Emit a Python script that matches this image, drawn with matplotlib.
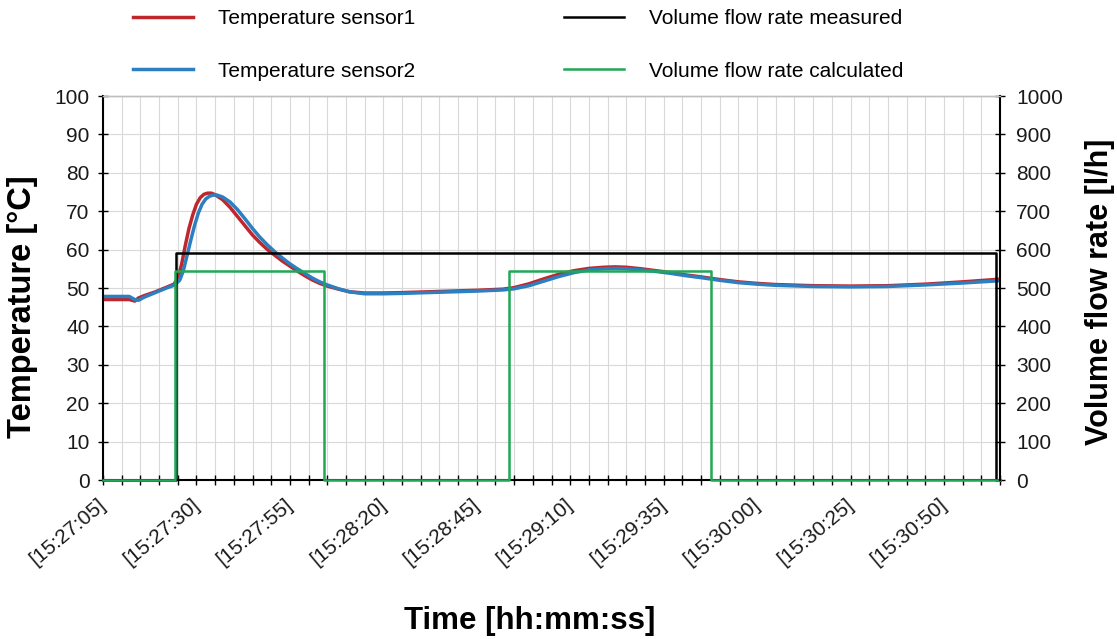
import matplotlib
matplotlib.use("Agg")
import matplotlib.pyplot as plt
from matplotlib.ticker import MultipleLocator, FuncFormatter
from matplotlib.transforms import ScaledTranslation
from matplotlib import font_manager

# ---- data (time in seconds after 15:27:05) ----
start_h, start_m, start_s = 15, 27, 5

t_sensor1 = [0, 7, 8.5, 9.5, 11, 14, 17, 19, 20, 21, 22, 23, 24, 25, 26, 27, 28, 29,
             30, 32, 34, 36, 38, 40, 42, 44, 46, 48, 50, 52, 54, 56, 58, 60, 63, 66,
             70, 75, 80, 90, 100, 107, 110, 114, 118, 122, 126, 130, 134, 137, 140,
             144, 148, 152, 156, 160, 165, 170, 175, 180, 190, 200, 210, 220, 230, 240]
temp_sensor1 = [47.0, 47.0, 46.6, 47.4, 48.0, 49.0, 50.2, 51.0, 52.5, 56.0, 61.0, 65.5,
                69.0, 71.8, 73.5, 74.4, 74.7, 74.7, 74.3, 73.0, 71.0, 68.6, 66.2, 63.8,
                61.8, 60.0, 58.5, 57.0, 55.7, 54.4, 53.2, 52.1, 51.2, 50.5, 49.7, 49.0,
                48.7, 48.7, 48.8, 49.1, 49.4, 49.7, 50.1, 51.1, 52.4, 53.6, 54.5, 55.1,
                55.4, 55.5, 55.4, 55.0, 54.5, 54.0, 53.4, 52.9, 52.2, 51.6, 51.2, 50.9,
                50.6, 50.5, 50.6, 51.0, 51.6, 52.3]

t_sensor2 = [0, 7, 8.5, 9.5, 11, 14, 17, 19, 20.5, 21.5, 22.5, 23.5, 24.5, 25.5, 26.5,
             27.5, 28.5, 29.5, 30.5, 32, 34, 36, 38, 40, 42, 44, 46, 48, 50, 52, 54, 56,
             58, 60, 63, 66, 70, 75, 80, 90, 100, 107, 110, 114, 118, 122, 126, 130,
             134, 137, 140, 144, 148, 152, 156, 160, 165, 170, 175, 180, 190, 200, 210,
             220, 230, 240]
temp_sensor2 = [47.8, 47.8, 47.0, 46.8, 47.6, 48.8, 50.0, 50.7, 52.0, 54.5, 58.5, 62.5,
                66.3, 69.5, 71.8, 73.2, 73.9, 74.2, 74.2, 73.7, 72.4, 70.4, 68.0, 65.5,
                63.2, 61.2, 59.4, 57.8, 56.3, 55.0, 53.8, 52.6, 51.6, 50.8, 49.8, 49.0,
                48.5, 48.5, 48.6, 48.9, 49.2, 49.5, 49.8, 50.6, 51.8, 53.0, 54.0, 54.7,
                55.0, 55.1, 55.0, 54.7, 54.3, 53.8, 53.2, 52.7, 52.0, 51.4, 51.0, 50.7,
                50.4, 50.3, 50.4, 50.8, 51.3, 51.9]

t_flow_measured = [0, 19.5, 238.8, 240]
flow_measured = [0, 590, 0, 0]

t_flow_calculated = [0, 19.3, 59.0, 108.6, 162.6, 240]
flow_calculated = [0, 545, 0, 545, 0, 0]

x_label = "Time [hh:mm:ss]"
y_label_left = "Temperature [°C]"
y_label_right = "Volume flow rate [l/h]"
labels = ["Temperature sensor1", "Temperature sensor2",
          "Volume flow rate measured", "Volume flow rate calculated"]

# ---- styling ----
available = {f.name for f in font_manager.fontManager.ttflist}
family = "Liberation Sans" if "Liberation Sans" in available else "DejaVu Sans"
plt.rcParams["font.family"] = [family, "DejaVu Sans"]

c_red = "#c0272d"
c_blue = "#2c7fc0"
c_black = "#000000"
c_green = "#1fa855"
c_grid = "#d9d9d9"

W, H = 1117, 639
fig = plt.figure(figsize=(W / 100, H / 100), dpi=100)
left, right, bottom, top = 103 / W, 1000 / W, 1 - 480 / H, 1 - 96 / H
ax = fig.add_axes([left, bottom, right - left, top - bottom])
ax2 = ax.twinx()

l1, = ax.plot(t_sensor1, temp_sensor1, color=c_red, lw=2.5, solid_joinstyle="round")
l2, = ax.plot(t_sensor2, temp_sensor2, color=c_blue, lw=2.5, solid_joinstyle="round")
l3, = ax2.plot(t_flow_measured, flow_measured, color=c_black, lw=1.8,
               drawstyle="steps-post", clip_on=False)
l4, = ax2.plot(t_flow_calculated, flow_calculated, color=c_green, lw=1.8,
               drawstyle="steps-post", clip_on=False)

ax.set_xlim(0, 240)
ax.set_ylim(0, 100)
ax2.set_ylim(0, 1000)

# x axis: labelled every 25 s, ticks and grid every 5 s
def fmt_time(v, pos):
    total = start_h * 3600 + start_m * 60 + start_s + int(round(v))
    h, rem = divmod(total, 3600)
    m, s = divmod(rem, 60)
    return f"[{h:02d}:{m:02d}:{s:02d}]"

ax.xaxis.set_minor_locator(MultipleLocator(5))
ax.xaxis.set_major_formatter(FuncFormatter(fmt_time))
ax.set_xticks([v for v in range(0, 226, 25)])
ax.yaxis.set_major_locator(MultipleLocator(10))
ax2.yaxis.set_major_locator(MultipleLocator(100))

ax.grid(which="both", axis="x", color=c_grid, lw=0.8)
ax.grid(which="major", axis="y", color=c_grid, lw=0.8)
ax.set_axisbelow(True)

tick_kw = dict(direction="inout", length=7.5, width=1.0, color="black",
               labelsize=15, labelcolor="#1a1a1a")
ax.tick_params(axis="x", which="both", pad=7, **tick_kw)
ax.tick_params(axis="y", which="major", pad=6, **tick_kw)
ax2.tick_params(axis="y", which="major", pad=8, **tick_kw)
shift = ScaledTranslation(-4 / 72, 0, fig.dpi_scale_trans)
for lab in ax.get_xticklabels():
    lab.set_rotation(40)
    lab.set_ha("right")
    lab.set_va("top")
    lab.set_rotation_mode("anchor")
    lab.set_transform(lab.get_transform() + shift)

for a in (ax, ax2):
    a.spines["top"].set_color("#bfbfbf")
    a.spines["top"].set_linewidth(1.0)
ax.spines["left"].set_linewidth(1.5)
ax.spines["bottom"].set_linewidth(1.5)
ax2.spines["right"].set_linewidth(1.5)
ax2.spines["bottom"].set_visible(False)
ax2.spines["left"].set_visible(False)
ax.spines["right"].set_visible(False)

ax.set_xlabel(x_label, fontsize=22.5, fontweight="bold", color="black")
ax.xaxis.set_label_coords((530 - 103) / 897, (480 - 606) / 384)
ax.set_ylabel(y_label_left, fontsize=23.5, fontweight="bold", color="black")
ax.yaxis.set_label_coords((38 - 103) / 897, (480 - 307) / 384)
ax2.set_ylabel(y_label_right, fontsize=22, fontweight="bold", color="black")
ax2.yaxis.set_label_coords((1085 - 103) / 897, (480 - 292) / 384)

fig.legend([l1, l2, l3, l4], labels, ncol=2, loc="upper left",
           bbox_to_anchor=(133 / W, 1 - 9 / H), frameon=False, fontsize=15,
           handlelength=2.9, handletextpad=1.2, columnspacing=7.1,
           labelspacing=1.62, borderpad=0, borderaxespad=0)

fig.savefig("out.png", dpi=100)
